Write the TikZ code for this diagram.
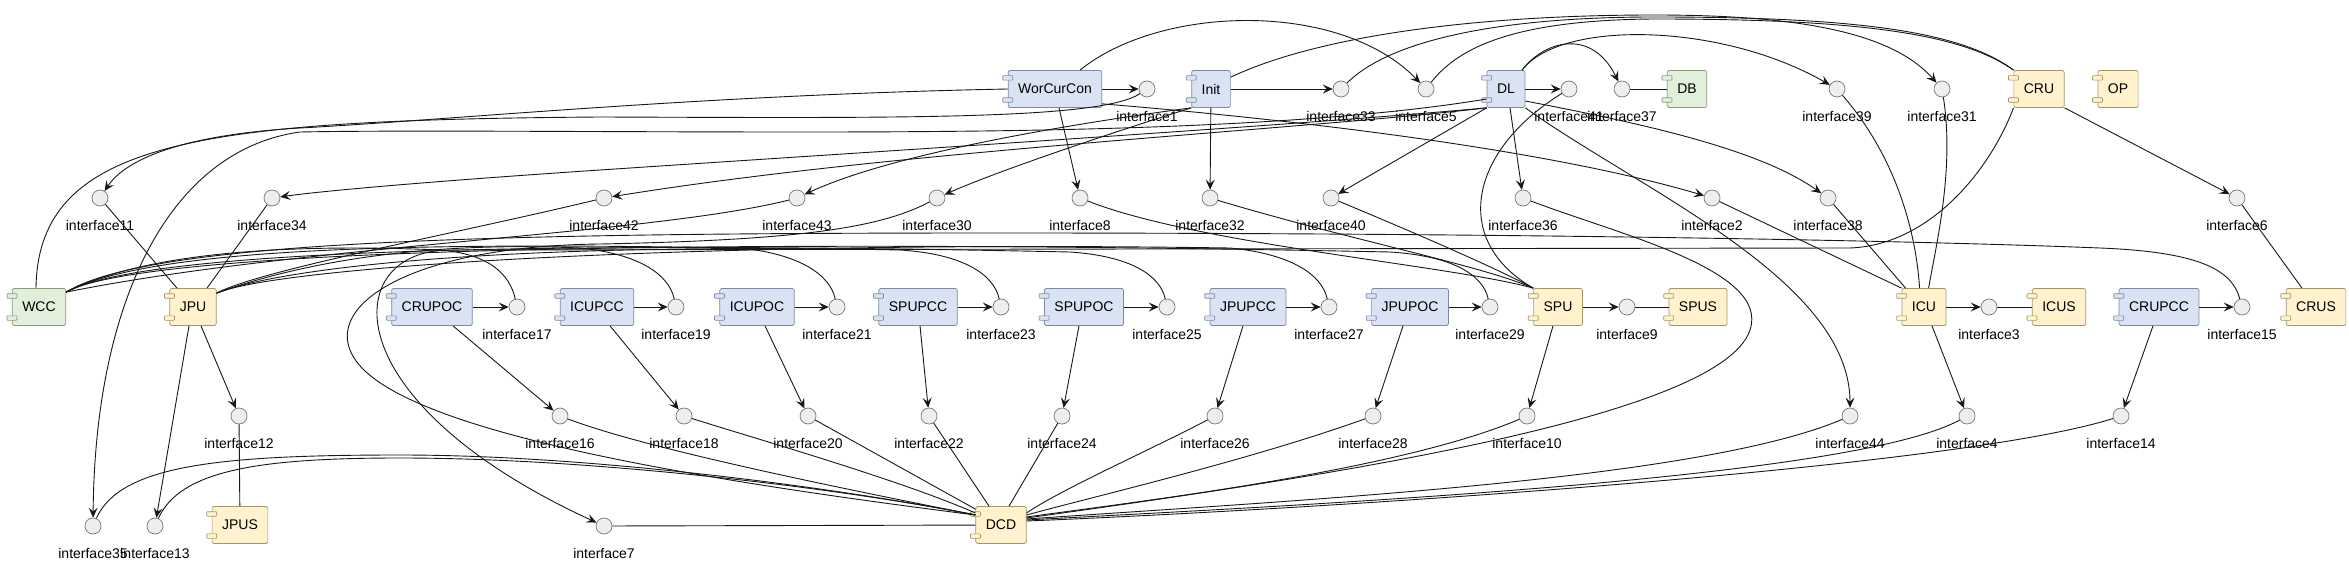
\documentclass[tikz,border=0pt]{standalone}
\usepackage{fontspec}
\setmainfont{Liberation Sans}
\usetikzlibrary{arrows.meta}
\definecolor{bfill}{RGB}{218,227,243}
\definecolor{bdraw}{RGB}{125,138,160}
\definecolor{yfill}{RGB}{255,242,204}
\definecolor{ydraw}{RGB}{165,150,105}
\definecolor{gfill}{RGB}{226,239,218}
\definecolor{gdraw}{RGB}{135,155,125}
\definecolor{ifill}{RGB}{238,238,238}
\definecolor{idraw}{RGB}{120,120,120}
\definecolor{lncol}{RGB}{24,24,24}
\newcommand\mkif[3]{\node[iface] (if#1) at (#2,#3) {}; \node[lbl] (if#1l) at (#2,#3+27) {interface#1};}
\begin{document}
\begin{tikzpicture}[x=1pt,y=-1pt,
  comp/.style={draw=#1draw, fill=#1fill, rounded corners=1.5pt, minimum height=37pt, inner xsep=10pt, inner ysep=0pt, font=\fontsize{14}{16}\selectfont, line width=0.7pt},
  iface/.style={circle, draw=idraw, fill=ifill, minimum size=16pt, inner sep=0pt, line width=0.7pt},
  lbl/.style={font=\fontsize{14}{16}\selectfont, inner sep=0pt},
  prov/.style={draw=lncol, line width=0.9pt, -{Stealth[length=10pt,width=9pt,inset=4pt]}},
  use/.style={draw=lncol, line width=0.9pt}]
\useasboundingbox (0,0) rectangle (2349,564);
\fill[white] (0,0) rectangle (2349,564);
% components row 1
\node[comp=b] (WorCurCon) at (1055,89) {WorCurCon};
\node[comp=b] (Init) at (1211,89) {Init};
\node[comp=b] (DL) at (1506,89) {DL};
\node[comp=g] (DB) at (1687,89) {DB};
\node[comp=y] (CRU) at (2039,89) {CRU};
\node[comp=y] (OP) at (2118,89) {OP};
% row 3
\node[comp=g] (WCC) at (39,307) {WCC};
\node[comp=y] (JPU) at (193,307) {JPU};
\node[comp=b] (CRUPOC) at (432,307) {CRUPOC};
\node[comp=b] (ICUPCC) at (597,307) {ICUPCC};
\node[comp=b] (ICUPOC) at (757,307) {ICUPOC};
\node[comp=b] (SPUPCC) at (918,307) {SPUPCC};
\node[comp=b] (SPUPOC) at (1084,307) {SPUPOC};
\node[comp=b] (JPUPCC) at (1248,307) {JPUPCC};
\node[comp=b] (JPUPOC) at (1410,307) {JPUPOC};
\node[comp=y] (SPU) at (1558,307) {SPU};
\node[comp=y] (SPUS) at (1698,307) {SPUS};
\node[comp=y] (ICU) at (1924,307) {ICU};
\node[comp=y] (ICUS) at (2059,307) {ICUS};
\node[comp=b] (CRUPCC) at (2159,307) {CRUPCC};
\node[comp=y] (CRUS) at (2316,307) {CRUS};
% row 5
\node[comp=y] (JPUS) at (240,525) {JPUS};
\node[comp=y] (DCD) at (1001,525) {DCD};
% ports
\foreach \n/\cc in {WorCurCon/b,Init/b,DL/b,DB/g,CRU/y,OP/y,WCC/g,JPU/y,CRUPOC/b,ICUPCC/b,ICUPOC/b,SPUPCC/b,SPUPOC/b,JPUPCC/b,JPUPOC/b,SPU/y,SPUS/y,ICU/y,ICUS/y,CRUPCC/b,CRUS/y,JPUS/y,DCD/y}{
  \draw[draw=\cc draw, fill=\cc fill, line width=0.7pt, rounded corners=0.8pt] ([xshift=-5pt,yshift=-5.5pt]\n.north west) rectangle ([xshift=5pt,yshift=-10pt]\n.north west);
  \draw[draw=\cc draw, fill=\cc fill, line width=0.7pt, rounded corners=0.8pt] ([xshift=-5pt,yshift=5.5pt]\n.south west) rectangle ([xshift=5pt,yshift=10pt]\n.south west);
}
% interfaces
\mkif{1}{1147}{89}
\mkif{33}{1341}{89}
\mkif{5}{1426}{89}
\mkif{41}{1569}{89}
\mkif{37}{1622}{89}
\mkif{39}{1837}{89}
\mkif{31}{1942}{89}
\mkif{11}{100}{198}
\mkif{34}{272}{198}
\mkif{42}{604}{198}
\mkif{43}{797}{198}
\mkif{30}{937}{198}
\mkif{8}{1080}{198}
\mkif{32}{1210}{198}
\mkif{40}{1331}{198}
\mkif{36}{1523}{198}
\mkif{2}{1712}{198}
\mkif{38}{1828}{198}
\mkif{6}{2237}{198}
\mkif{17}{517}{307}
\mkif{19}{676}{307}
\mkif{21}{837}{307}
\mkif{23}{1001}{307}
\mkif{25}{1167}{307}
\mkif{27}{1329}{307}
\mkif{29}{1490}{307}
\mkif{9}{1627}{307}
\mkif{3}{1989}{307}
\mkif{15}{2242}{307}
\mkif{12}{239}{416}
\mkif{16}{560}{416}
\mkif{18}{684}{416}
\mkif{20}{808}{416}
\mkif{22}{929}{416}
\mkif{24}{1062}{416}
\mkif{26}{1215}{416}
\mkif{28}{1373}{416}
\mkif{10}{1527}{416}
\mkif{44}{1850}{416}
\mkif{4}{1967}{416}
\mkif{14}{2121}{416}
\mkif{35}{93}{526}
\mkif{13}{155}{526}
\mkif{7}{604}{526}
% provided (arrows)
\draw[prov] (WorCurCon) -- (if1);
\draw[prov] (Init) -- (if33);
\draw[prov] (DL) -- (if41);
\draw[prov] (CRUPOC) -- (if17);
\draw[prov] (ICUPCC) -- (if19);
\draw[prov] (ICUPOC) -- (if21);
\draw[prov] (SPUPCC) -- (if23);
\draw[prov] (SPUPOC) -- (if25);
\draw[prov] (JPUPCC) -- (if27);
\draw[prov] (JPUPOC) -- (if29);
\draw[prov] (SPU) -- (if9);
\draw[prov] (ICU) -- (if3);
\draw[prov] (CRUPCC) -- (if15);
\draw[prov] ([xshift=4pt]WorCurCon.south) -- (if8);
\draw[prov] (Init) -- (if32);
\draw[prov] ([xshift=4pt]DL.south) -- (if36);
\draw[prov] (DL.south west) -- (if40);
\draw[prov] ([xshift=8pt]JPU.south) -- (if12);
\draw[prov] ([xshift=-4pt]JPU.south) -- (if13);
\draw[prov] ([xshift=21pt]CRUPOC.south) -- (if16);
\draw[prov] ([xshift=13pt]ICUPCC.south) -- (if18);
\draw[prov] ([xshift=8pt]ICUPOC.south) -- (if20);
\draw[prov] ([xshift=2pt]SPUPCC.south) -- (if22);
\draw[prov] ([xshift=-5pt]SPUPOC.south) -- (if24);
\draw[prov] ([xshift=-5pt]JPUPCC.south) -- (if26);
\draw[prov] ([xshift=-7pt]JPUPOC.south) -- (if28);
\draw[prov] ([xshift=-5pt]SPU.south) -- (if10);
\draw[prov] ([xshift=8pt]ICU.south) -- (if4);
\draw[prov] ([xshift=-6pt]CRUPCC.south) -- (if14);
\draw[prov] (CRU.south east) -- (if6);
\draw[prov] ([xshift=25pt]WorCurCon.north) .. controls (1160,5) and (1340,0) .. (if5);
\draw[prov] ([yshift=-7pt]Init.north east) .. controls (1320,35) and (1480,15) .. (1654,15) .. controls (1790,15) and (1890,30) .. (if31);
\draw[prov] ([xshift=16pt]DL.north) .. controls (1545,40) and (1592,28) .. (if37);
\draw[prov] ([xshift=16pt]DL.north) .. controls (1560,20) and (1720,22) .. (if39);
\draw[prov] ([yshift=-12pt]DL.east) .. controls (1650,125) and (1760,150) .. (if38);
\draw[prov] (DL.south east) .. controls (1640,190) and (1850,280) .. (if44);
\draw[prov] ([yshift=4pt]WorCurCon.south east) .. controls (1300,120) and (1550,150) .. (if2);
\draw[prov] (WorCurCon.west) .. controls (700,95) and (450,120) .. (300,128) .. controls (180,135) and (125,160) .. (if11);
\draw[prov] ([yshift=-10pt]DL.west) .. controls (1300,130) and (1000,132) .. (800,132) .. controls (600,132) and (400,130) .. (300,132) .. controls (170,150) and (95,300) .. (if35);
\draw[prov] (DL.south west) .. controls (1300,125) and (900,150) .. (600,170) .. controls (450,180) and (330,190) .. (if34);
\draw[prov] (DL.south west) .. controls (1300,130) and (900,150) .. (if42);
\draw[prov] (Init.south west) .. controls (1100,120) and (900,150) .. (if43);
\draw[prov] (Init.south west) .. controls (1120,130) and (1000,170) .. (if30);
\draw[prov] (CRU.south west) .. controls (1990,170) and (1930,245) .. (1850,248) -- (450,250) .. controls (340,250) and (330,400) .. (if7);
% used (plain lines)
\draw[use] (if37) -- (DB);
\draw[use] (if9) -- (SPUS);
\draw[use] (if3) -- (ICUS);
\draw[use] (if12) -- (JPUS);
\draw[use] (if6) -- ([xshift=-14pt]CRUS.north);
\draw[use] (if1) .. controls (1100,120) and (900,118) .. (600,117) .. controls (200,120) and (38,140) .. ([xshift=-3pt]WCC.north);
\draw[use] (if11) -- ([xshift=-16pt]JPU.north);
\draw[use] (if34) -- ([xshift=14pt]JPU.north);
\draw[use] (if42) .. controls (450,235) and (260,270) .. ([yshift=-5pt]JPU.north east);
\draw[use] (if43) .. controls (650,235) and (300,245) .. ([yshift=-4pt]WCC.north east);
\draw[use] (if30) .. controls (880,228) and (800,240) .. (600,244) .. controls (420,246) and (330,300) .. (350,350) .. controls (380,430) and (700,480) .. ([yshift=10pt]DCD.west);
\draw[use] (if8) .. controls (1200,245) and (1450,265) .. (SPU.north west);
\draw[use] (if32) .. controls (1350,240) and (1480,265) .. (SPU.north west);
\draw[use] (if40) .. controls (1420,235) and (1500,270) .. (SPU.north west);
\draw[use] (if41) .. controls (1470,150) and (1450,240) .. (SPU.north west);
\draw[use] (if2) -- (ICU.north west);
\draw[use] (if38) -- ([xshift=4pt]ICU.north west);
\draw[use] (if39) .. controls (1890,150) and (1915,220) .. ([xshift=18pt]ICU.north west);
\draw[use] (if31) .. controls (1955,170) and (1935,250) .. ([xshift=27pt]ICU.north west);
\draw[use] (if33) .. controls (1390,40) and (1500,17) .. (1654,17) .. controls (1850,17) and (1960,30) .. (CRU.north west);
\draw[use] (if5) .. controls (1460,45) and (1520,20) .. (1654,19) .. controls (1850,19) and (1960,32) .. (CRU.north west);
% bundles to WCC / JPU
\draw[use] (if17) .. controls (510,275) and (490,254) .. (440,250) .. controls (300,244) and (150,250) .. ([yshift=-4pt]WCC.north east);
\draw[use] (if19) .. controls (669,275) and (640,254) .. (580,248) .. controls (400,240) and (280,270) .. ([yshift=-5pt]JPU.north east);
\draw[use] (if21) .. controls (830,275) and (800,254) .. (740,248) .. controls (400,242) and (150,248) .. ([yshift=-4pt]WCC.north east);
\draw[use] (if23) .. controls (994,275) and (964,254) .. (900,250) .. controls (500,242) and (280,268) .. ([yshift=-5pt]JPU.north east);
\draw[use] (if25) .. controls (1160,275) and (1130,256) .. (1070,252) .. controls (600,242) and (150,246) .. ([yshift=-4pt]WCC.north east);
\draw[use] (if27) .. controls (1322,275) and (1292,254) .. (1230,248) .. controls (700,240) and (280,266) .. ([yshift=-5pt]JPU.north east);
\draw[use] (if29) .. controls (1483,275) and (1453,256) .. (1390,252) .. controls (800,240) and (150,244) .. ([yshift=-4pt]WCC.north east);
\draw[use] (if15) .. controls (2232,270) and (2200,252) .. (2100,248) .. controls (1900,240) and (1500,233) .. (1000,233) .. controls (500,233) and (150,240) .. ([yshift=-4pt]WCC.north east);
% to DCD
\draw[use] (if7) -- (DCD);
\draw[use] (if13) .. controls (180,470) and (260,458) .. (400,458) .. controls (600,458) and (850,490) .. ([yshift=10pt]DCD.west);
\draw[use] (if35) .. controls (120,465) and (220,455) .. (400,455) .. controls (600,455) and (850,490) .. ([yshift=10pt]DCD.west);
\draw[use] (if16) .. controls (650,450) and (850,490) .. ([yshift=10pt]DCD.west);
\draw[use] (if18) .. controls (760,440) and (900,480) .. ([yshift=12pt]DCD.west);
\draw[use] (if20) -- ([yshift=-3pt]DCD.north west);
\draw[use] (if22) -- ([xshift=-12pt]DCD.north);
\draw[use] (if24) -- ([xshift=8pt]DCD.north);
\draw[use] (if26) .. controls (1150,450) and (1060,490) .. ([yshift=12pt]DCD.east);
\draw[use] (if28) .. controls (1250,460) and (1100,495) .. ([yshift=10pt]DCD.east);
\draw[use] (if10) .. controls (1400,470) and (1150,500) .. ([yshift=8pt]DCD.east);
\draw[use] (if36) .. controls (1620,235) and (1770,270) .. (1750,330) .. controls (1720,420) and (1300,480) .. ([yshift=7pt]DCD.east);
\draw[use] (if44) .. controls (1700,480) and (1300,500) .. ([yshift=6pt]DCD.east);
\draw[use] (if4) .. controls (1850,480) and (1300,505) .. ([yshift=5pt]DCD.east);
\draw[use] (if14) .. controls (1950,470) and (1300,510) .. ([yshift=4pt]DCD.east);
\end{tikzpicture}
\end{document}
